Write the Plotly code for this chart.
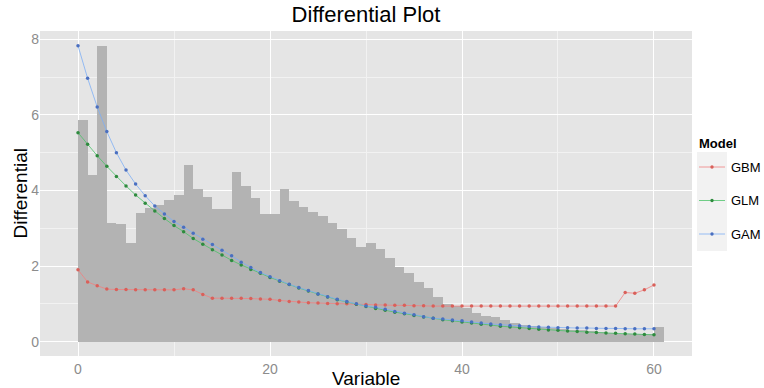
import plotly.graph_objects as go

# Variable positions (integers 0..60)
variable = list(range(61))

# Histogram-like bar heights (bar i spans [i, i+1])
bar_heights = [5.87, 4.41, 7.82, 3.15, 3.10, 2.60, 3.40, 3.53, 3.62, 3.74,
               3.88, 4.67, 4.04, 3.82, 3.52, 3.52, 4.50, 4.12, 3.79, 3.38,
               3.38, 4.03, 3.72, 3.57, 3.42, 3.33, 3.15, 2.97, 2.73, 2.51,
               2.62, 2.44, 2.21, 1.97, 1.81, 1.59, 1.41, 1.19, 1.00, 0.93,
               0.88, 0.77, 0.68, 0.64, 0.57, 0.50, 0.45, 0.42, 0.38, 0.36,
               0.34, 0.32, 0.30, 0.28, 0.26, 0.22, 0.20, 0.20, 0.20, 0.20,
               0.38]

gbm = [1.90, 1.58, 1.48, 1.39, 1.38, 1.38, 1.37, 1.37, 1.37, 1.37,
       1.37, 1.40, 1.37, 1.25, 1.15, 1.15, 1.15, 1.15, 1.14, 1.13,
       1.12, 1.09, 1.06, 1.05, 1.03, 1.02, 1.01, 1.00, 1.00, 0.99,
       0.98, 0.97, 0.97, 0.96, 0.96, 0.95, 0.95, 0.94, 0.94, 0.94,
       0.94, 0.94, 0.94, 0.94, 0.94, 0.94, 0.94, 0.94, 0.94, 0.94,
       0.94, 0.94, 0.94, 0.94, 0.94, 0.94, 0.94, 1.30, 1.28, 1.37,
       1.50]

glm = [5.53, 5.22, 4.92, 4.64, 4.37, 4.12, 3.88, 3.66, 3.46, 3.26,
       3.07, 2.91, 2.73, 2.58, 2.43, 2.29, 2.15, 2.03, 1.91, 1.81,
       1.70, 1.60, 1.51, 1.42, 1.34, 1.26, 1.18, 1.11, 1.05, 0.99,
       0.93, 0.88, 0.83, 0.78, 0.74, 0.69, 0.65, 0.62, 0.58, 0.55,
       0.52, 0.49, 0.46, 0.44, 0.41, 0.39, 0.37, 0.35, 0.33, 0.31,
       0.30, 0.28, 0.27, 0.25, 0.24, 0.23, 0.22, 0.21, 0.20, 0.19,
       0.18]

gam = [7.83, 6.97, 6.21, 5.56, 5.00, 4.54, 4.17, 3.86, 3.59, 3.38,
       3.18, 3.03, 2.87, 2.71, 2.57, 2.42, 2.27, 2.10, 1.96, 1.83,
       1.72, 1.61, 1.52, 1.43, 1.35, 1.26, 1.19, 1.12, 1.06, 1.00,
       0.94, 0.91, 0.86, 0.80, 0.75, 0.71, 0.66, 0.62, 0.60, 0.57,
       0.55, 0.52, 0.49, 0.47, 0.45, 0.43, 0.42, 0.40, 0.39, 0.38,
       0.37, 0.37, 0.36, 0.36, 0.35, 0.35, 0.35, 0.34, 0.34, 0.34,
       0.34]

x_ticks = [0, 20, 40, 60]
y_ticks = [0, 2, 4, 6, 8]
model_names = ["GBM", "GLM", "GAM"]

FONT = "Arial, Liberation Sans, sans-serif"
W, H = 764, 388
ML, MR, MT, MB = 40, 72, 31, 32
PW, PH = W - ML - MR, H - MT - MB


def px_x(p):
    return (p - ML) / PW


def px_y(p):
    return (H - MB - p) / PH


fig = go.Figure()

fig.add_trace(go.Bar(
    x=[v + 0.5 for v in variable], y=bar_heights, width=1.0,
    marker=dict(color="#B3B3B3", line=dict(width=0)),
    showlegend=False, hoverinfo="skip"))

series_vals = [gbm, glm, gam]
line_cols = ["#F08080", "#4CC36A", "#7EAEF5"]
mark_cols = ["#D9605A", "#2E8B3E", "#4A6FC0"]
for name, vals, lc, mc in zip(model_names, series_vals, line_cols, mark_cols):
    fig.add_trace(go.Scatter(
        x=variable, y=vals, mode="lines+markers", name=name,
        line=dict(color=lc, width=0.8),
        marker=dict(color=mc, size=3.5), showlegend=False))

# Axis titles placed at fixed pixel positions
annotations = [
    dict(text="Variable", x=px_x(366), y=px_y(378), xref="paper", yref="paper",
         xanchor="center", yanchor="middle", showarrow=False,
         font=dict(size=19, color="black", family=FONT)),
    dict(text="Differential", x=px_x(20), y=px_y(193.5), xref="paper", yref="paper",
         xanchor="center", yanchor="middle", showarrow=False, textangle=-90,
         font=dict(size=19, color="black", family=FONT)),
]

# Manual legend (ggplot style) placed in the right margin
shapes = []
annotations.append(dict(text="<b>Model</b>", x=px_x(697), y=px_y(143), xref="paper",
                        yref="paper", xanchor="left", yanchor="middle", showarrow=False,
                        font=dict(size=13, color="black", family=FONT)))
shapes.append(dict(type="rect", xref="paper", yref="paper",
                   x0=px_x(697), x1=px_x(727), y0=px_y(152), y1=px_y(251),
                   fillcolor="#F2F2F2", line=dict(width=0), layer="below"))
for i, (name, lc, mc) in enumerate(zip(model_names, line_cols, mark_cols)):
    yy = 167 + 33.5 * i
    shapes.append(dict(type="line", xref="paper", yref="paper",
                       x0=px_x(699), x1=px_x(725), y0=px_y(yy), y1=px_y(yy),
                       line=dict(color=lc, width=0.8)))
    shapes.append(dict(type="circle", xref="paper", yref="paper",
                       x0=px_x(710.3), x1=px_x(713.7), y0=px_y(yy - 1.7), y1=px_y(yy + 1.7),
                       fillcolor=mc, line=dict(width=0)))
    annotations.append(dict(text=name, x=px_x(729), y=px_y(yy), xref="paper",
                            yref="paper", xanchor="left", yanchor="middle",
                            showarrow=False,
                            font=dict(size=13, color="black", family=FONT)))

fig.update_layout(
    width=W, height=H,
    margin=dict(l=ML, r=MR, t=MT, b=MB, autoexpand=False),
    paper_bgcolor="white", plot_bgcolor="#E5E5E5",
    bargap=0, showlegend=False,
    font=dict(family=FONT, color="#7F7F7F", size=14),
    title=dict(text="Differential Plot", x=0.5, xref="paper", xanchor="center",
               y=0.962, yref="container", yanchor="middle",
               font=dict(size=22, color="black", family=FONT)),
    xaxis=dict(range=[-3.96, 63.96], tickvals=x_ticks, showline=False,
               zeroline=False, gridcolor="white", gridwidth=1.2, automargin=False,
               minor=dict(tickvals=[10, 30, 50], gridcolor="#F2F2F2", gridwidth=0.6),
               ticks="", ticklabelstandoff=3,
               tickfont=dict(size=14, color="#8C8C8C")),
    yaxis=dict(range=[-0.38, 8.22], tickvals=y_ticks, showline=False,
               zeroline=False, gridcolor="white", gridwidth=1.2, automargin=False,
               minor=dict(tickvals=[1, 3, 5, 7], gridcolor="#F2F2F2", gridwidth=0.6),
               ticks="", tickfont=dict(size=14, color="#8C8C8C")),
    shapes=shapes, annotations=annotations,
)

fig.write_html("out.html")
